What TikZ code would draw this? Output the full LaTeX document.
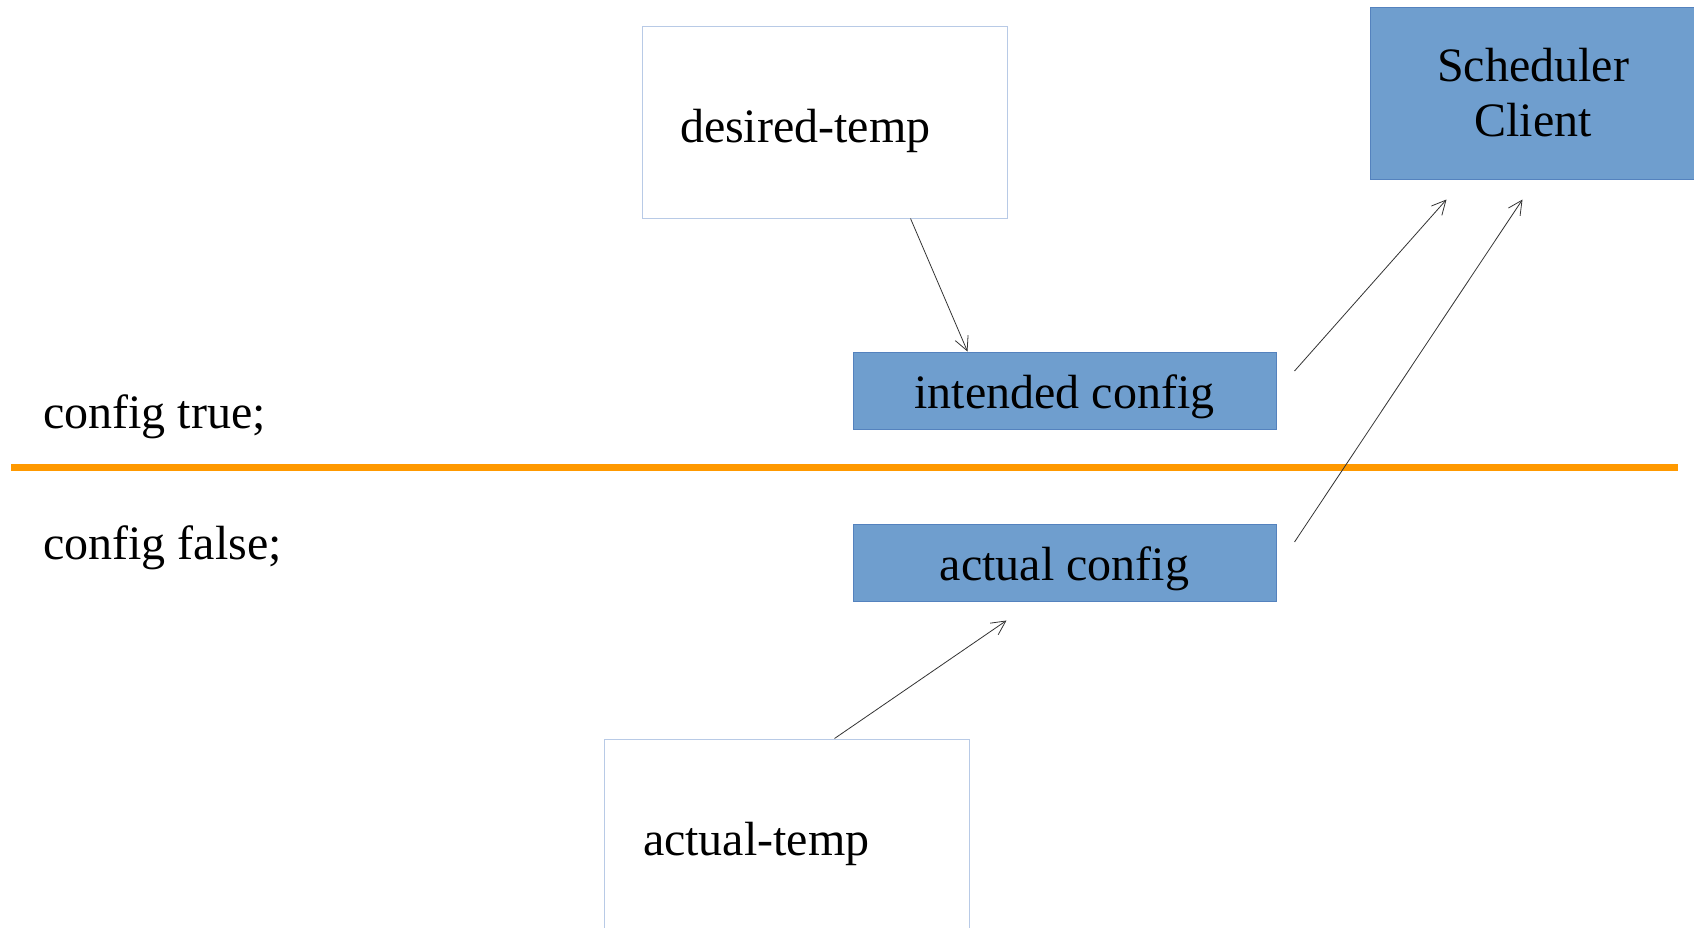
\documentclass[tikz,border=0pt]{standalone}
\usepackage{fontspec}
\setmainfont{Liberation Serif}
\usetikzlibrary{arrows.meta,calc}
\definecolor{boxblue}{RGB}{111,158,206}
\definecolor{boxblueedge}{RGB}{84,130,190}
\definecolor{paleedge}{RGB}{184,202,230}
\definecolor{divorange}{RGB}{255,153,0}
\tikzset{
  txt/.style={font=\fontsize{48pt}{55pt}\selectfont, inner sep=0pt},
  bluebox/.style={txt, fill=boxblue, draw=boxblueedge, line width=1pt,
    minimum width=423pt, minimum height=77pt, text height=40pt, text depth=5pt},
  whitebox/.style={txt, fill=white, draw=paleedge, line width=1pt,
    minimum width=365pt, minimum height=192pt, text width=289pt, inner xsep=38pt,
    align=left, text height=40pt, text depth=0pt},
  conn/.style={draw=black!80, line width=0.8pt,
    -{Straight Barb[length=14pt,width=14pt,line width=0.8pt]}},
}
\begin{document}
\begin{tikzpicture}[x=1pt,y=-1pt]
\useasboundingbox (0,0) rectangle (1694,927);
\fill[white] (0,0) rectangle (1694,927);
% divider
\draw[divorange, line width=7pt] (11,467) coordinate (divL) -- (1678,467) coordinate (divR);
% labels
\node[txt, anchor=base west] (ltrue) at (43,428) {config true;};
\node[txt, anchor=base west] (lfalse) at (43,559) {config false;};
% boxes
\node[whitebox] (desired) at (824.5,122) {desired-temp};
\node[whitebox, inner xsep=39pt, text width=287pt] (atemp) at (786.5,835) {actual-temp};
\node[bluebox] (intended) at (1064.5,390.5) {intended config};
\node[bluebox] (actual) at (1064.5,562.5) {actual config};
\node[txt, fill=boxblue, draw=boxblueedge, line width=1pt, align=center,
  minimum width=326pt, minimum height=172pt] (sched) at (1533,93) {Scheduler\\Client};
% connectors
\draw[conn] ($(desired.south west)+(269,0)$) -- ($(intended.north west)+(115,0)$);
\draw[conn] ($(intended.east)+(18,-19.5)$) -- ($(sched.south west)+(77,20)$);
\draw[conn] ($(actual.east)+(18,-20.5)$) -- ($(sched.south west)+(153,20)$);
\draw[conn] ($(atemp.north west)+(231,0)$) -- ($(actual.south west)+(154,19)$);
\end{tikzpicture}
\end{document}
